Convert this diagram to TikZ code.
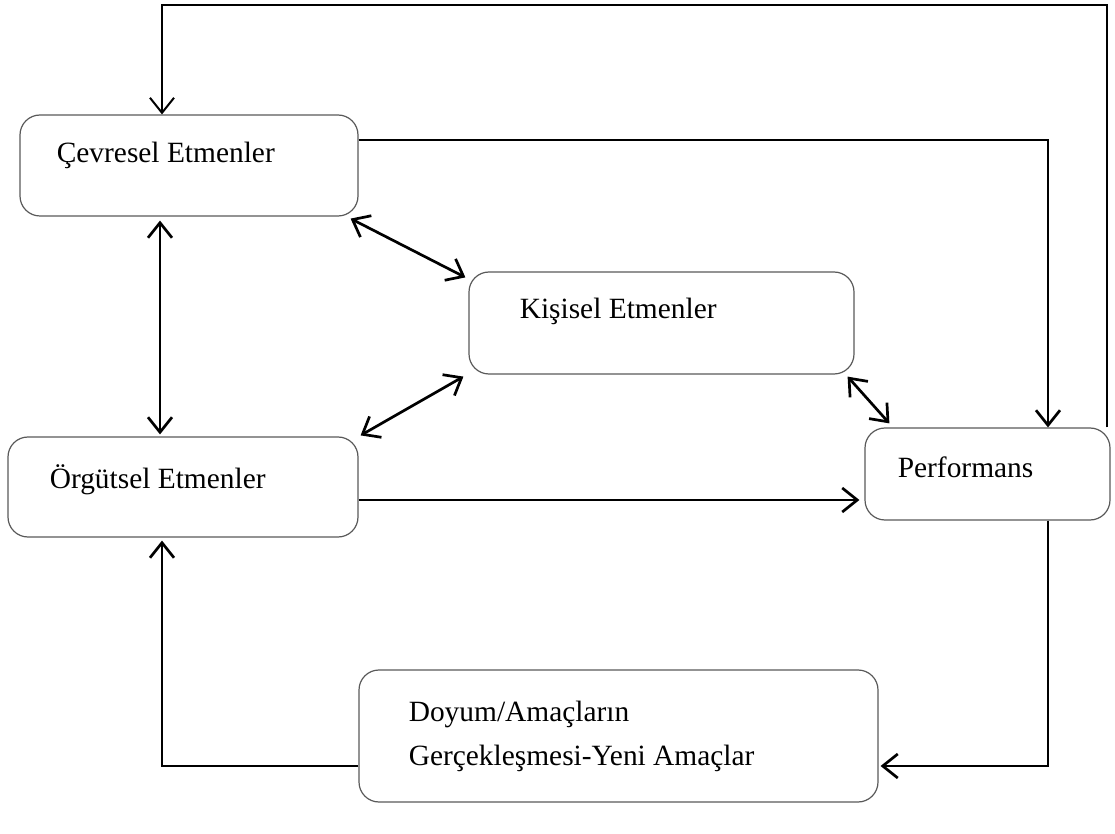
\documentclass[tikz,border=0pt]{standalone}
\usepackage{fontspec}
\setmainfont{Liberation Serif}
\usetikzlibrary{arrows.meta}
\tikzset{
  ebox/.style={draw=black!65, line width=0.6pt, rounded corners=10pt, inner sep=0pt},
  etxt/.style={anchor=west, inner sep=0pt, align=left, font=\fontsize{14.7}{22}\selectfont},
  flow/.style={-{Straight Barb[length=7.5pt,width=12pt]}, line width=1.35pt},
  flowb/.style={{Straight Barb[length=7.5pt,width=12pt]}-{Straight Barb[length=7.5pt,width=12pt]}, line width=1.35pt},
  fback/.style={-{Straight Barb[length=7.5pt,width=12pt]}, line width=1pt},
}

\begin{document}
\begin{tikzpicture}[x=0.5pt, y=-0.5pt]
  \useasboundingbox (0,0) rectangle (1115,834);
  % boxes
  \node[ebox, minimum width=169pt, minimum height=50.5pt] (cev) at (189,165.5) {};
  \node[ebox, minimum width=192.5pt, minimum height=51pt] (kis) at (661.5,323) {};
  \node[ebox, minimum width=175pt, minimum height=50pt] (org) at (183,487) {};
  \node[ebox, minimum width=122.5pt, minimum height=46pt] (perf) at (987.5,474) {};
  \node[ebox, minimum width=259.5pt, minimum height=66pt] (doy) at (618.5,736) {};
  % texts
  \node[etxt] (cevT) at ([shift={(18.5pt,5.25pt)}]cev.west) {Çevresel Etmenler};
  \node[etxt] (kisT) at ([shift={(25.5pt,6pt)}]kis.west) {Kişisel Etmenler};
  \node[etxt] (orgT) at ([shift={(21pt,3.5pt)}]org.west) {Örgütsel Etmenler};
  \node[etxt] (perfT) at ([shift={(16.5pt,3.5pt)}]perf.west) {Performans};
  \node[etxt] (doyT) at ([shift={(25pt,0pt)}]doy.west) {Doyum/Amaçların\\Gerçekleşmesi-Yeni Amaçlar};
  % connectors
  \coordinate (top) at (0,5);
  \draw[fback] ([xshift=-2pt]perf.north east) -- ([xshift=-2pt]perf.north east |- top)
    -| ([xshift=-13.5pt]cev.north);
  \draw[flow] ([yshift=12.75pt]cev.east) -| ([xshift=30.25pt]perf.north);
  \draw[flowb] ([xshift=-4pt,yshift=-1pt]cev.south east) -- ([xshift=-1.5pt,yshift=-3pt]kis.north west);
  \draw[flowb] ([xshift=-14.5pt,yshift=-2pt]cev.south) -- ([xshift=-14.5pt,yshift=1pt]cev.south |- org.north);
  \draw[flowb] ([xshift=-2.5pt,yshift=-1pt]kis.south west) -- ([xshift=1pt,yshift=0.5pt]org.north east);
  \draw[flowb] ([xshift=-3.5pt,yshift=-1pt]kis.south east) -- ([xshift=12.5pt,yshift=2pt]perf.north west);
  \draw[flow] ([yshift=-6.5pt]org.east) -- ([xshift=-2.5pt,yshift=-6.5pt]org.east -| perf.west);
  \draw[flow] ([xshift=30.25pt]perf.south) |- ([xshift=1pt,yshift=-15pt]doy.east);
  \draw[flow] ([yshift=-15pt]doy.west) -| ([xshift=-10.5pt,yshift=-1.5pt]org.south);
\end{tikzpicture}
\end{document}
